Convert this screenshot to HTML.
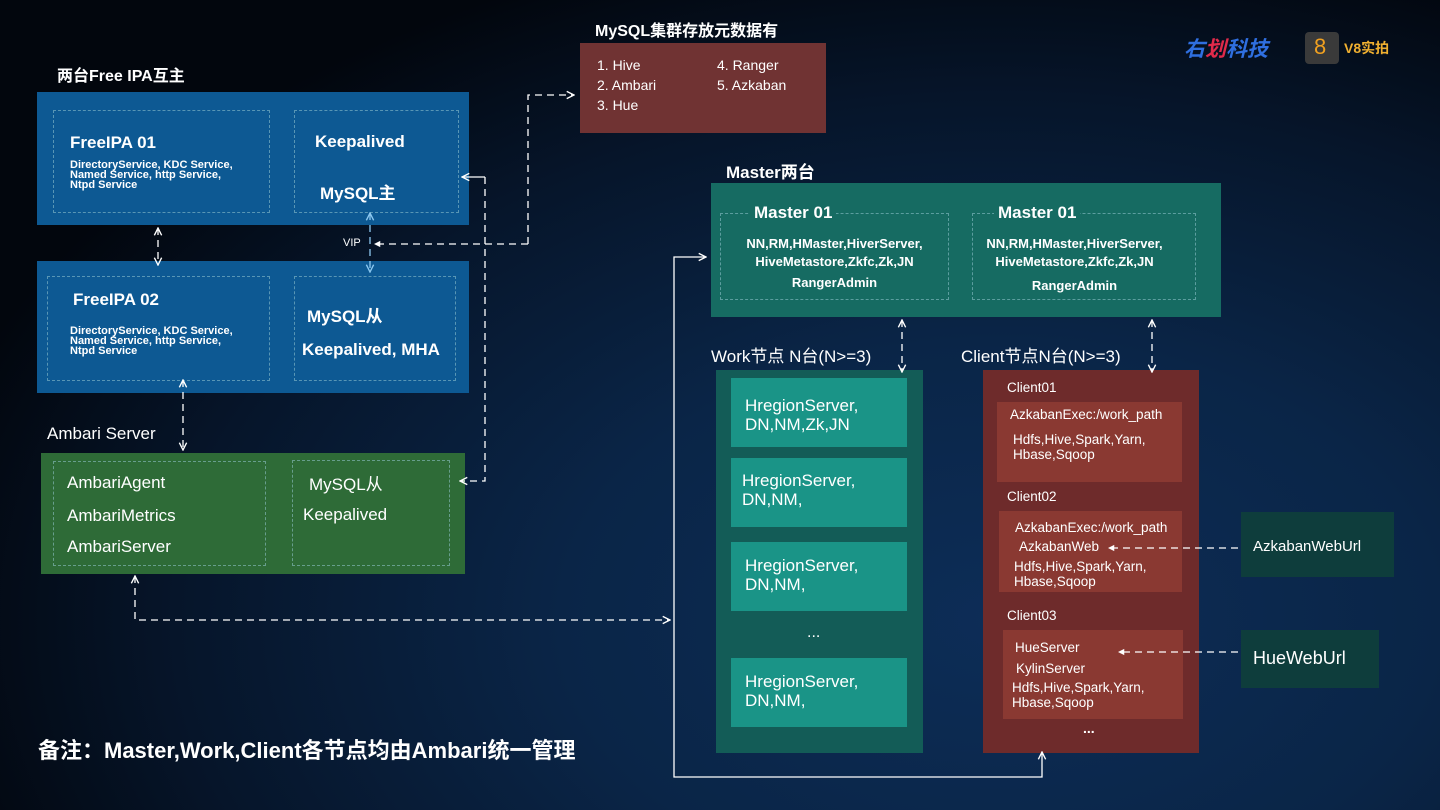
<!DOCTYPE html>
<html><head><meta charset="utf-8"><style>
*{margin:0;padding:0;box-sizing:border-box}
body{width:1440px;height:810px;overflow:hidden;position:relative;font-family:"Liberation Sans","Noto Sans CJK SC",sans-serif;color:#fff;font-weight:bold;
background:radial-gradient(ellipse 1100px 700px at 1000px 620px,#0d2d57 0%,#0a2547 40%,#06152a 75%,#02060d 100%)}
.a{position:absolute}
.d{position:absolute;border:1.5px dashed rgba(150,200,210,.55)}
.t{position:absolute;white-space:nowrap}
</style></head><body>
<div class="t" style="left:57px;top:62px;font-size:16px">两台Free IPA互主</div>
<div class="a" style="left:37px;top:92px;width:432px;height:133px;background:#0d5993"></div>
<div class="d" style="left:53px;top:110px;width:217px;height:103px"></div>
<div class="d" style="left:294px;top:110px;width:165px;height:103px"></div>
<div class="t" style="left:70px;top:133px;font-size:17px">FreeIPA 01</div>
<div class="t" style="left:70px;top:160px;font-size:11px;line-height:10px">DirectoryService, KDC Service,<br>Named Service, http Service,<br>Ntpd Service</div>
<div class="t" style="left:315px;top:132px;font-size:17px">Keepalived</div>
<div class="t" style="left:320px;top:179px;font-size:17px">MySQL主</div>

<div class="a" style="left:37px;top:261px;width:432px;height:132px;background:#0d5993"></div>
<div class="d" style="left:47px;top:276px;width:223px;height:105px"></div>
<div class="d" style="left:294px;top:276px;width:162px;height:105px"></div>
<div class="t" style="left:73px;top:290px;font-size:17px">FreeIPA 02</div>
<div class="t" style="left:70px;top:326px;font-size:11px;line-height:10px">DirectoryService, KDC Service,<br>Named Service, http Service,<br>Ntpd Service</div>
<div class="t" style="left:307px;top:302px;font-size:17px">MySQL从</div>
<div class="t" style="left:302px;top:340px;font-size:17px">Keepalived, MHA</div>
<div class="t" style="left:343px;top:237px;font-size:11px;font-weight:normal">VIP</div>

<div class="t" style="left:595px;top:17px;font-size:16px">MySQL集群存放元数据有</div>
<div class="a" style="left:580px;top:43px;width:246px;height:90px;background:#703333"></div>
<div class="t" style="left:597px;top:55px;font-size:14px;line-height:20px;font-weight:normal">1. Hive<br>2. Ambari<br>3. Hue</div>
<div class="t" style="left:717px;top:55px;font-size:14px;line-height:20px;font-weight:normal">4. Ranger<br>5. Azkaban</div>

<div class="t" style="left:1184px;top:33px;font-size:21px;font-style:italic;color:#2f6fe0">右<span style="color:#e02a4a">划</span>科技</div>
<div class="a" style="left:1305px;top:32px;width:34px;height:32px;background:#3a3a3a;border-radius:4px"></div>
<div class="t" style="left:1314px;top:34px;font-size:22px;color:#f0a020;font-weight:normal">8</div>
<div class="t" style="left:1344px;top:38px;font-size:14px;color:#f0b030">V8实拍</div>

<div class="t" style="left:726px;top:158px;font-size:17px">Master两台</div>
<div class="a" style="left:711px;top:183px;width:510px;height:134px;background:#166b62"></div>
<div class="d" style="left:720px;top:213px;width:229px;height:87px"></div>
<div class="d" style="left:972px;top:213px;width:224px;height:87px"></div>
<div class="t" style="left:750px;top:201px;font-size:17px;background:#166b62;padding:2px 4px">Master 01</div>
<div class="t" style="left:994px;top:201px;font-size:17px;background:#166b62;padding:2px 4px">Master 01</div>
<div class="t" style="left:720px;top:235px;width:229px;text-align:center;font-size:13px;line-height:18px">NN,RM,HMaster,HiverServer,<br>HiveMetastore,Zkfc,Zk,JN</div>
<div class="t" style="left:720px;top:275px;width:229px;text-align:center;font-size:13px">RangerAdmin</div>
<div class="t" style="left:960px;top:235px;width:229px;text-align:center;font-size:13px;line-height:18px">NN,RM,HMaster,HiverServer,<br>HiveMetastore,Zkfc,Zk,JN</div>
<div class="t" style="left:960px;top:278px;width:229px;text-align:center;font-size:13px">RangerAdmin</div>

<div class="t" style="left:711px;top:342px;font-size:17px;font-weight:normal">Work节点 N台(N&gt;=3)</div>
<div class="a" style="left:716px;top:370px;width:207px;height:383px;background:#135c57"></div>
<div class="a" style="left:731px;top:378px;width:176px;height:69px;background:#1a9487"></div>
<div class="a" style="left:731px;top:458px;width:176px;height:69px;background:#1a9487"></div>
<div class="a" style="left:731px;top:542px;width:176px;height:69px;background:#1a9487"></div>
<div class="a" style="left:731px;top:658px;width:176px;height:69px;background:#1a9487"></div>
<div class="t" style="left:745px;top:396px;font-size:17px;line-height:19px;font-weight:normal">HregionServer,<br>DN,NM,Zk,JN</div>
<div class="t" style="left:742px;top:471px;font-size:17px;line-height:19px;font-weight:normal">HregionServer,<br>DN,NM,</div>
<div class="t" style="left:745px;top:556px;font-size:17px;line-height:19px;font-weight:normal">HregionServer,<br>DN,NM,</div>
<div class="t" style="left:745px;top:672px;font-size:17px;line-height:19px;font-weight:normal">HregionServer,<br>DN,NM,</div>
<div class="t" style="left:807px;top:624px;font-size:16px;font-weight:normal">...</div>

<div class="t" style="left:961px;top:342px;font-size:17px;font-weight:normal">Client节点N台(N&gt;=3)</div>
<div class="a" style="left:983px;top:370px;width:216px;height:383px;background:#6e2b2b"></div>
<div class="a" style="left:997px;top:402px;width:185px;height:80px;background:#8a3932"></div>
<div class="a" style="left:999px;top:511px;width:183px;height:81px;background:#8a3932"></div>
<div class="a" style="left:1003px;top:630px;width:180px;height:89px;background:#8a3932"></div>
<div class="t" style="left:1007px;top:380px;font-size:13.5px;font-weight:normal">Client01</div>
<div class="t" style="left:1010px;top:407px;font-size:13.5px;font-weight:normal">AzkabanExec:/work_path</div>
<div class="t" style="left:1013px;top:432px;font-size:13.5px;line-height:15px;font-weight:normal">Hdfs,Hive,Spark,Yarn,<br>Hbase,Sqoop</div>
<div class="t" style="left:1007px;top:489px;font-size:13.5px;font-weight:normal">Client02</div>
<div class="t" style="left:1015px;top:520px;font-size:13.5px;font-weight:normal">AzkabanExec:/work_path</div>
<div class="t" style="left:1019px;top:539px;font-size:13.5px;font-weight:normal">AzkabanWeb</div>
<div class="t" style="left:1014px;top:559px;font-size:13.5px;line-height:15px;font-weight:normal">Hdfs,Hive,Spark,Yarn,<br>Hbase,Sqoop</div>
<div class="t" style="left:1007px;top:608px;font-size:13.5px;font-weight:normal">Client03</div>
<div class="t" style="left:1015px;top:640px;font-size:13.5px;font-weight:normal">HueServer</div>
<div class="t" style="left:1016px;top:661px;font-size:13.5px;font-weight:normal">KylinServer</div>
<div class="t" style="left:1012px;top:680px;font-size:13.5px;line-height:15px;font-weight:normal">Hdfs,Hive,Spark,Yarn,<br>Hbase,Sqoop</div>
<div class="t" style="left:1083px;top:720px;font-size:14px">...</div>

<div class="a" style="left:1241px;top:512px;width:153px;height:65px;background:#0e3d3c"></div>
<div class="t" style="left:1253px;top:538px;font-size:15px;font-weight:normal">AzkabanWebUrl</div>
<div class="a" style="left:1241px;top:630px;width:138px;height:58px;background:#0e3d3c"></div>
<div class="t" style="left:1253px;top:648px;font-size:18px;font-weight:normal">HueWebUrl</div>

<div class="t" style="left:47px;top:424px;font-size:17px;font-weight:normal">Ambari Server</div>
<div class="a" style="left:41px;top:453px;width:424px;height:121px;background:#2e6b37"></div>
<div class="d" style="left:53px;top:461px;width:213px;height:105px"></div>
<div class="d" style="left:292px;top:460px;width:158px;height:106px"></div>
<div class="t" style="left:67px;top:473px;font-size:17px;font-weight:normal">AmbariAgent</div>
<div class="t" style="left:67px;top:506px;font-size:17px;font-weight:normal">AmbariMetrics</div>
<div class="t" style="left:67px;top:537px;font-size:17px;font-weight:normal">AmbariServer</div>
<div class="t" style="left:309px;top:470px;font-size:17px;font-weight:normal">MySQL从</div>
<div class="t" style="left:303px;top:505px;font-size:17px;font-weight:normal">Keepalived</div>

<div class="t" style="left:38px;top:733px;font-size:22px">备注：Master,Work,Client各节点均由Ambari统一管理</div>

<svg class="a" style="left:0;top:0" width="1440" height="810">
<defs>
<marker id="ar" viewBox="0 0 10 10" refX="9" refY="5" markerWidth="7" markerHeight="7" orient="auto-start-reverse"><path d="M1 1L9 5L1 9" fill="none" stroke="#fff" stroke-width="1.5"/></marker>
<marker id="ab" viewBox="0 0 10 10" refX="9" refY="5" markerWidth="7" markerHeight="7" orient="auto-start-reverse"><path d="M1 1L9 5L1 9" fill="none" stroke="#8cc8f0" stroke-width="1.5"/></marker>
<marker id="tr" viewBox="0 0 10 10" refX="9" refY="5" markerWidth="6" markerHeight="6" orient="auto-start-reverse"><path d="M1 1L9 5L1 9z" fill="#fff"/></marker>
</defs>
<g fill="none" stroke="#fff" stroke-width="1.3" stroke-dasharray="7 5">
<path d="M158 228V265" marker-start="url(#ar)" marker-end="url(#ar)"/>
<path d="M528 244H374" marker-end="url(#tr)"/>
<path d="M528 244V95H574" marker-end="url(#ar)"/>
<path d="M370 213V272" stroke="#8cc8f0" marker-start="url(#ab)" marker-end="url(#ab)"/>
<path d="M485 177H462" stroke-dasharray="none" marker-end="url(#ar)"/>
<path d="M485 177V481H460" marker-end="url(#ar)"/>
<path d="M183 380V450" marker-start="url(#ar)" marker-end="url(#ar)"/>
<path d="M135 576V620H670" marker-start="url(#ar)" marker-end="url(#ar)"/>
<path d="M902 320V372" marker-start="url(#ar)" marker-end="url(#ar)"/>
<path d="M1152 320V372" marker-start="url(#ar)" marker-end="url(#ar)"/>
<path d="M1238 548H1108" marker-end="url(#tr)"/>
<path d="M1238 652H1118" marker-end="url(#tr)"/>
<path d="M706 257H674V777H1042V752" stroke-dasharray="none" marker-start="url(#ar)" marker-end="url(#ar)"/>
</g>
</svg>
</body></html>
